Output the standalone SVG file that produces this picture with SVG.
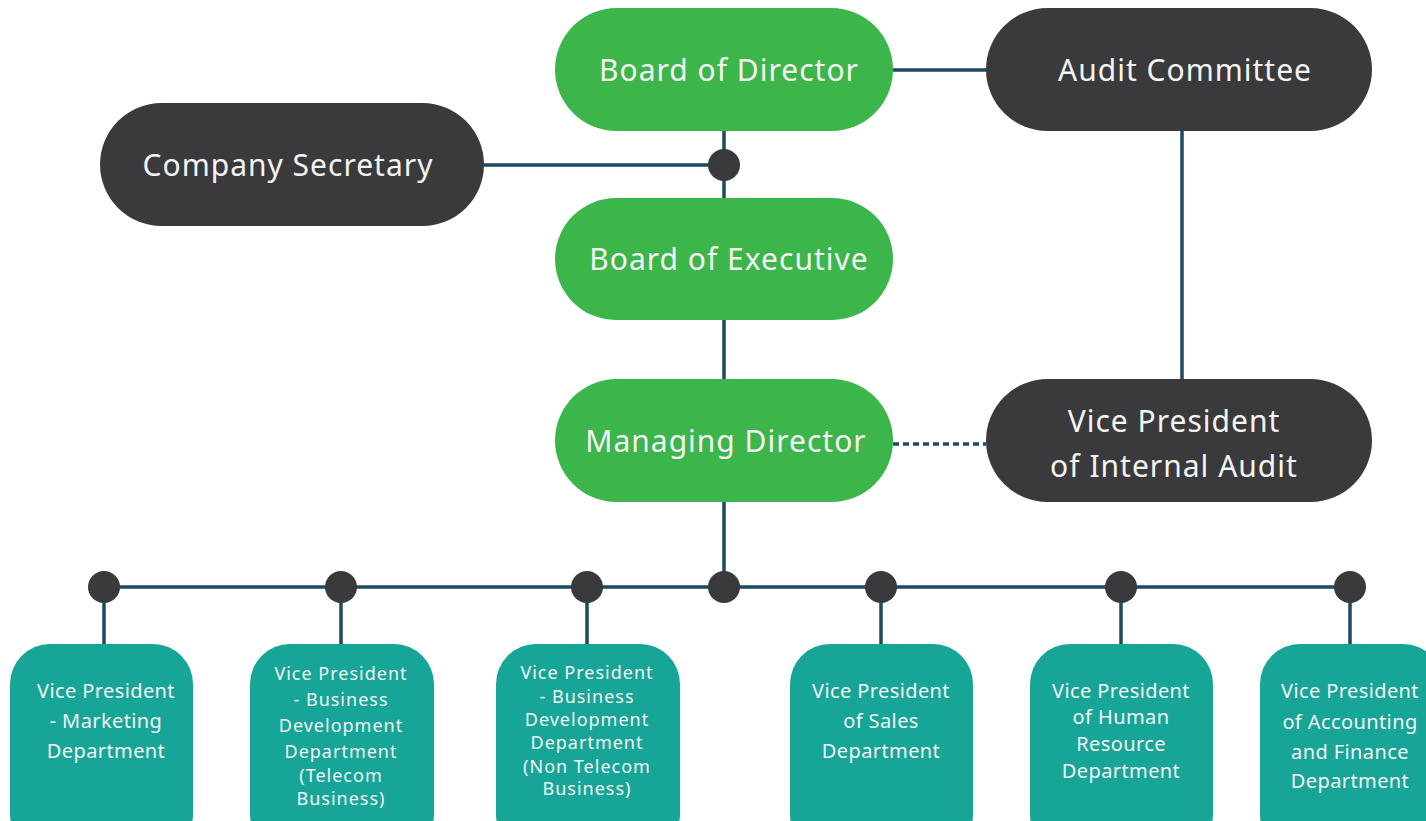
<svg xmlns="http://www.w3.org/2000/svg" width="1426" height="821" viewBox="0 0 1426 821">
  <style>
    .green { fill: #3cb54a; }
    .dark { fill: #3a3a3c; }
    .teal { fill: #17a598; }
    .wire { stroke: #1b4a61; stroke-width: 3.5; fill: none; }
    .dotted { stroke: #1b4a61; stroke-width: 3.5; fill: none; stroke-dasharray: 6 4; }
    .joint { fill: #3a3a3c; }
    .big { font-family: "Noto Sans", "Open Sans", sans-serif; font-size: 30px; letter-spacing: 1px; fill: #f4f4f4; text-anchor: middle; }
    .small { font-family: "Noto Sans", "Open Sans", sans-serif; font-size: 20px; letter-spacing: 0.4px; fill: #f4f4f4; text-anchor: middle; }
    /* tighter setting for the six-line boxes */
    .dense { font-family: "Noto Sans", "Open Sans", sans-serif; font-size: 18px; letter-spacing: 1px; fill: #f4f4f4; text-anchor: middle; }
  </style>
  <rect width="1426" height="821" fill="#ffffff"/>

  <!-- connectors -->
  <g id="connectors">
    <line class="wire" x1="724" y1="131" x2="724" y2="198"/>
    <line class="wire" x1="484" y1="165" x2="724" y2="165"/>
    <line class="wire" x1="893" y1="70" x2="986" y2="70"/>
    <line class="wire" x1="1182" y1="131" x2="1182" y2="379"/>
    <line class="wire" x1="724" y1="320" x2="724" y2="379"/>
    <line class="dotted" x1="893" y1="444" x2="986" y2="444"/>
    <line class="wire" x1="724" y1="502" x2="724" y2="587"/>
    <line class="wire" x1="104" y1="587" x2="1350" y2="587"/>
    <line class="wire" x1="104" y1="587" x2="104" y2="644"/>
    <line class="wire" x1="341" y1="587" x2="341" y2="644"/>
    <line class="wire" x1="587" y1="587" x2="587" y2="644"/>
    <line class="wire" x1="881" y1="587" x2="881" y2="644"/>
    <line class="wire" x1="1121" y1="587" x2="1121" y2="644"/>
    <line class="wire" x1="1350" y1="587" x2="1350" y2="644"/>
    <circle class="joint" cx="724" cy="165" r="16"/>
    <circle class="joint" cx="104" cy="587" r="16"/>
    <circle class="joint" cx="341" cy="587" r="16"/>
    <circle class="joint" cx="587" cy="587" r="16"/>
    <circle class="joint" cx="724" cy="587" r="16"/>
    <circle class="joint" cx="881" cy="587" r="16"/>
    <circle class="joint" cx="1121" cy="587" r="16"/>
    <circle class="joint" cx="1350" cy="587" r="16"/>
  </g>

  <!-- upper nodes -->
  <g id="board-of-director">
    <rect class="green" x="555" y="8" width="338" height="123" rx="61.5"/>
    <text class="big" x="729" y="81">Board of Director</text>
  </g>
  <g id="audit-committee">
    <rect class="dark" x="986" y="8" width="386" height="123" rx="61.5"/>
    <text class="big" x="1185" y="81">Audit Committee</text>
  </g>
  <g id="company-secretary">
    <rect class="dark" x="100" y="103" width="384" height="123" rx="61.5"/>
    <text class="big" x="288" y="176">Company Secretary</text>
  </g>
  <g id="board-of-executive">
    <rect class="green" x="555" y="198" width="338" height="122" rx="61"/>
    <text class="big" x="729" y="270">Board of Executive</text>
  </g>
  <g id="managing-director">
    <rect class="green" x="555" y="379" width="338" height="123" rx="61.5"/>
    <text class="big" x="726" y="452">Managing Director</text>
  </g>
  <g id="vp-internal-audit">
    <rect class="dark" x="986" y="379" width="386" height="123" rx="61.5"/>
    <text class="big" x="1174" y="432">Vice President</text>
    <text class="big" x="1174" y="477">of Internal Audit</text>
  </g>

  <!-- department nodes -->
  <g id="vp-marketing">
    <rect class="teal" x="10" y="644" width="183" height="210" rx="40"/>
    <text class="small" x="106" y="698">Vice President</text>
    <text class="small" x="106" y="728">- Marketing</text>
    <text class="small" x="106" y="758">Department</text>
  </g>
  <g id="vp-bd-telecom">
    <rect class="teal" x="250" y="644" width="184" height="210" rx="40"/>
    <text class="dense" x="341" y="680">Vice President</text>
    <text class="dense" x="341" y="706">- Business</text>
    <text class="dense" x="341" y="732">Development</text>
    <text class="dense" x="341" y="758">Department</text>
    <text class="dense" x="341" y="782">(Telecom</text>
    <text class="dense" x="341" y="805">Business)</text>
  </g>
  <g id="vp-bd-non-telecom">
    <rect class="teal" x="496" y="644" width="184" height="210" rx="40"/>
    <text class="dense" x="587" y="679">Vice President</text>
    <text class="dense" x="587" y="703">- Business</text>
    <text class="dense" x="587" y="726">Development</text>
    <text class="dense" x="587" y="749">Department</text>
    <text class="dense" x="587" y="773">(Non Telecom</text>
    <text class="dense" x="587" y="795">Business)</text>
  </g>
  <g id="vp-sales">
    <rect class="teal" x="790" y="644" width="183" height="210" rx="40"/>
    <text class="small" x="881" y="698">Vice President</text>
    <text class="small" x="881" y="728">of Sales</text>
    <text class="small" x="881" y="758">Department</text>
  </g>
  <g id="vp-human-resource">
    <rect class="teal" x="1030" y="644" width="183" height="210" rx="40"/>
    <text class="small" x="1121" y="698">Vice President</text>
    <text class="small" x="1121" y="724">of  Human</text>
    <text class="small" x="1121" y="751">Resource</text>
    <text class="small" x="1121" y="778">Department</text>
  </g>
  <g id="vp-accounting-finance">
    <rect class="teal" x="1260" y="644" width="183" height="210" rx="40"/>
    <text class="small" x="1350" y="698">Vice President</text>
    <text class="small" x="1350" y="729">of Accounting</text>
    <text class="small" x="1350" y="759">and Finance</text>
    <text class="small" x="1350" y="788">Department</text>
  </g>
</svg>
